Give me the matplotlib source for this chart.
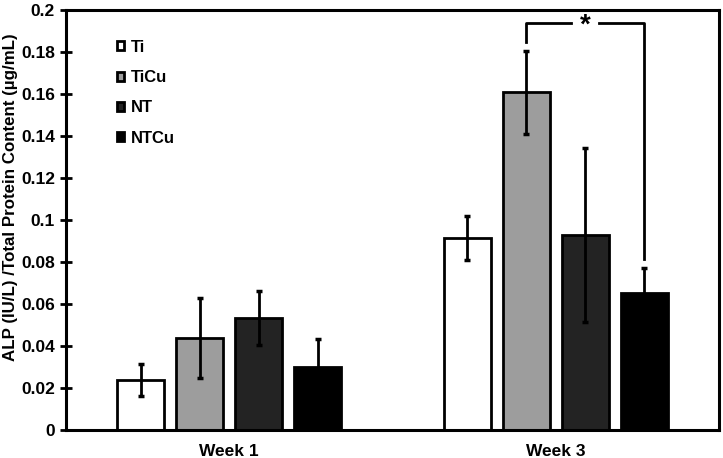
import matplotlib.pyplot as plt
import numpy as np

plt.rcParams["font.family"] = ["Liberation Sans", "DejaVu Sans"]
plt.rcParams["font.weight"] = "bold"

# values
weeks = ["Week 1", "Week 3"]
groups = ["Ti", "TiCu", "NT", "NTCu"]
means = {
    "Ti": [0.0238, 0.0914],
    "TiCu": [0.0440, 0.1608],
    "NT": [0.0533, 0.0928],
    "NTCu": [0.0300, 0.0652],
}
errors = {
    "Ti": [0.0075, 0.0105],
    "TiCu": [0.0190, 0.0198],
    "NT": [0.0127, 0.0413],
    "NTCu": [0.0133, 0.0120],
}
colors = {"Ti": "#ffffff", "TiCu": "#9d9d9d", "NT": "#232323", "NTCu": "#000000"}

fig = plt.figure(figsize=(7.23, 4.58), dpi=100)
ax = fig.add_axes([0.0913, 0.061, 0.9032, 0.917])

x = np.arange(len(weeks))
width = 0.144
step = 0.181
bars = []
for i, g in enumerate(groups):
    pos = x + (i - 1.5) * step
    b = ax.bar(pos, means[g], width, color=colors[g], edgecolor="black",
               linewidth=2, label=g, zorder=2)
    ax.errorbar(pos, means[g], yerr=errors[g], fmt="none", ecolor="black",
                elinewidth=2, capsize=2.5, capthick=2.5, zorder=3)
    bars.append(b)

# significance bracket between TiCu and NTCu in week 3
x_l = x[1] + (1 - 1.5) * step
x_r = x[1] + (3 - 1.5) * step
y_top = 0.1938
xm = (x_l + x_r) / 2
gap = 0.043
ax.plot([x_l, x_l, xm - gap], [0.1848, y_top, y_top], color="black", lw=2, zorder=4)
ax.plot([xm + gap, x_r, x_r], [y_top, y_top, 0.0815], color="black", lw=2, zorder=4)
ax.text(xm, y_top - 0.001, "*", ha="center", va="center", fontsize=20, fontweight="bold")

ax.set_xlim(-0.5, 1.5)
ax.set_ylim(0, 0.2)
ax.set_yticks(np.arange(0, 0.201, 0.02))
ax.set_yticklabels(["0", "0.02", "0.04", "0.06", "0.08", "0.1", "0.12",
                    "0.14", "0.16", "0.18", "0.2"])
ax.set_xticks(x)
ax.set_xticklabels(weeks)
ax.tick_params(axis="y", direction="inout", length=8, width=2, labelsize=12.5, pad=4)
ax.tick_params(axis="x", length=0, labelsize=12.5, pad=10)
for s in ax.spines.values():
    s.set_linewidth(2.2)
ax.set_ylabel("ALP (IU/L) /Total Protein Content (\u00b5g/mL)", fontsize=12.2,
              fontweight="bold")
ax.yaxis.set_label_coords(-0.073, 0.555)

ax.legend(handles=bars, loc="upper left", bbox_to_anchor=(0.055, 0.965),
          frameon=False, handlelength=0.45, handleheight=0.45, handletextpad=0.4,
          labelspacing=0.92, prop={"weight": "bold", "size": 12})

fig.savefig("out.png", dpi=100)
